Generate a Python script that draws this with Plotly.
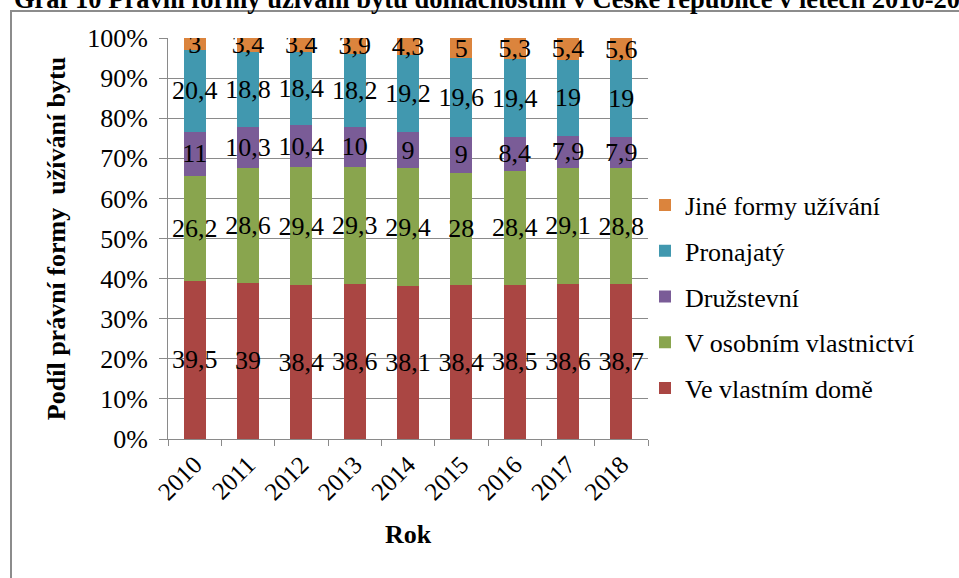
import plotly.graph_objects as go

years = ["2010", "2011", "2012", "2013", "2014", "2015", "2016", "2017", "2018"]
ve_vlastnim_dome = [39.5, 39, 38.4, 38.6, 38.1, 38.4, 38.5, 38.6, 38.7]
v_osobnim_vlastnictvi = [26.2, 28.6, 29.4, 29.3, 29.4, 28, 28.4, 29.1, 28.8]
druzstevni = [11, 10.3, 10.4, 10, 9, 9, 8.4, 7.9, 7.9]
pronajaty = [20.4, 18.8, 18.4, 18.2, 19.2, 19.6, 19.4, 19, 19]
jine_formy = [3, 3.4, 3.4, 3.9, 4.3, 5, 5.3, 5.4, 5.6]

series = [
    ("Ve vlastním domě", ve_vlastnim_dome, "#AA4643"),
    ("V osobním vlastnictví", v_osobnim_vlastnictvi, "#89A54E"),
    ("Družstevní", druzstevni, "#7A5C97"),
    ("Pronajatý", pronajaty, "#4198AF"),
    ("Jiné formy užívání", jine_formy, "#DB843D"),
]

FONT = "Times New Roman, Liberation Serif, serif"

def fmt(v):
    s = ("%g" % v)
    return s.replace(".", ",")

fig = go.Figure()
n = len(series)
for i, (name, vals, col) in enumerate(series):
    fig.add_trace(go.Bar(
        x=years, y=vals, name=name,
        marker=dict(color=col, line=dict(width=0)),
        text=[fmt(v) for v in vals],
        textposition="inside",
        insidetextanchor="middle",
        textangle=0,
        constraintext="none",
        textfont=dict(family=FONT, size=26, color="black"),
        insidetextfont=dict(family=FONT, size=26, color="black"),
        legendgroup=name,
        legendrank=n - i,
    ))

L, R, T, B = 168, 311, 38, 139
W, H = 959, 578
pw = W - L - R
ph = H - T - B

def px_x(x):
    return (x - L) / pw

def px_y(y):
    return 1 - (y - T) / ph

fig.update_layout(
    width=W, height=H,
    margin=dict(l=L, r=R, t=T, b=B, pad=0),
    barmode="stack",
    barnorm="percent",
    bargap=0.59,
    paper_bgcolor="white",
    plot_bgcolor="white",
    font=dict(family=FONT, size=24, color="black"),
    showlegend=True,
    legend=dict(
        x=px_x(645), y=px_y(297), xanchor="left", yanchor="middle",
        traceorder="grouped", tracegroupgap=9,
        font=dict(family=FONT, size=26, color="black"),
        bgcolor="rgba(0,0,0,0)",
        itemwidth=30,
    ),
    xaxis=dict(
        type="category",
        tickson="boundaries",
        ticks="outside", ticklen=6, tickcolor="#8a8a8a", tickwidth=1,
        showline=True, linecolor="#8a8a8a", linewidth=1,
        showgrid=False,
        tickangle=-45,
        tickfont=dict(family=FONT, size=25),
        title=dict(text="<b>Rok</b>", font=dict(family=FONT, size=26), standoff=20),
    ),
    yaxis=dict(
        range=[0, 100], dtick=10, ticksuffix="%",
        ticks="outside", ticklen=8, tickcolor="#8a8a8a", tickwidth=1,
        showline=True, linecolor="#8a8a8a", linewidth=1,
        showgrid=True, gridcolor="#8a8a8a", gridwidth=1,
        zeroline=False,
        tickfont=dict(family=FONT, size=26),
        ticklabelstandoff=6,
        title=dict(text="<b>Podíl právní formy  užívání bytu</b>", font=dict(family=FONT, size=26), standoff=14),
    ),
    shapes=[
        dict(type="line", xref="paper", yref="paper",
             x0=px_x(11), x1=px_x(11), y0=px_y(590), y1=px_y(11),
             line=dict(color="#8c8c8c", width=2)),
        dict(type="line", xref="paper", yref="paper",
             x0=px_x(10), x1=px_x(970), y0=px_y(11), y1=px_y(11),
             line=dict(color="#8c8c8c", width=2)),
    ],
    annotations=[
        dict(text="<b>Graf 10 Právní formy užívání bytu domácnostmi v České republice v letech 2010-2018</b>",
             xref="paper", yref="paper", x=px_x(12), y=px_y(16),
             xanchor="left", yanchor="bottom", showarrow=False,
             font=dict(family=FONT, size=26.5, color="black")),
    ],
)

fig.write_html("out.html")
